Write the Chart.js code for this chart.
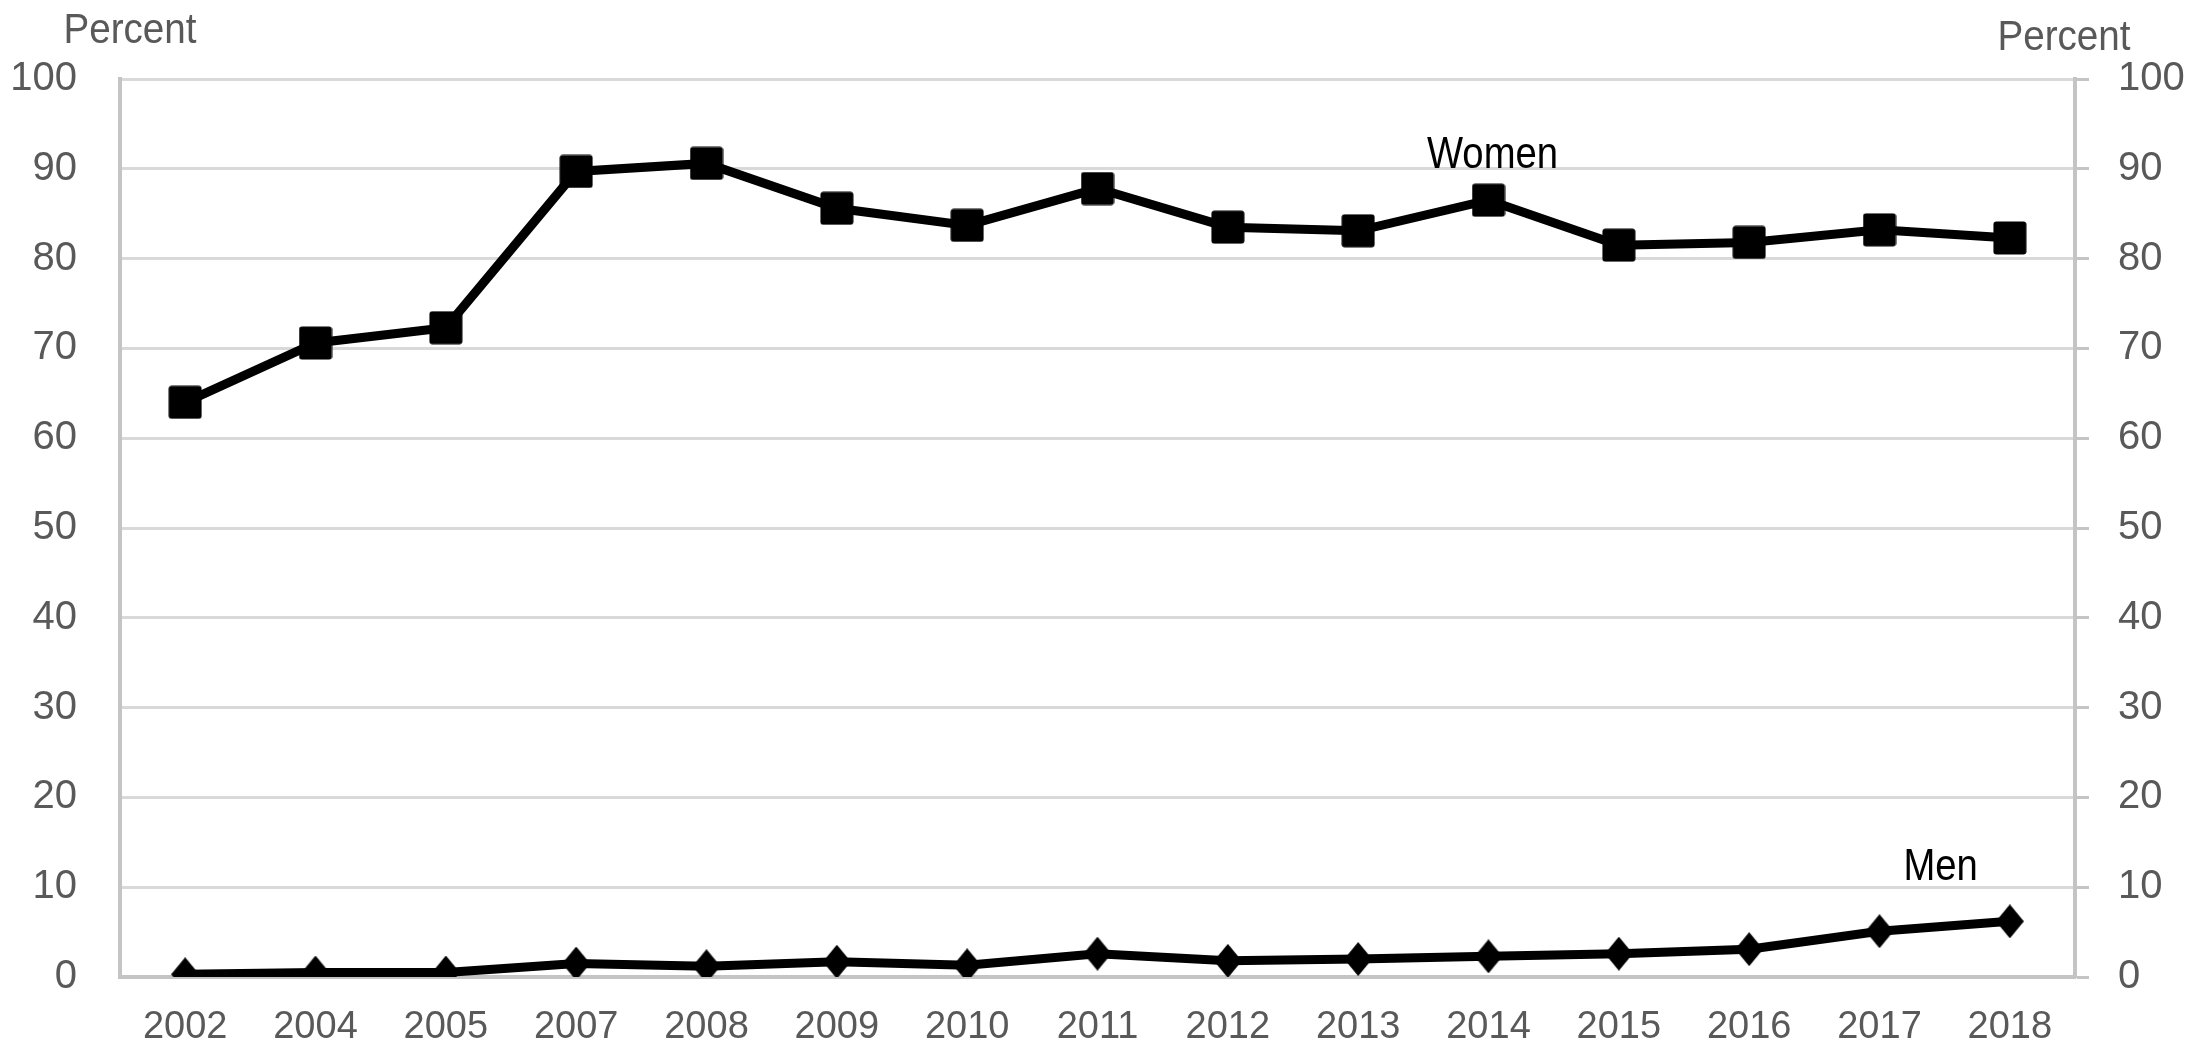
<!DOCTYPE html>
<html>
<head>
<meta charset="utf-8">
<script src="https://cdn.jsdelivr.net/npm/chart.js@4/dist/chart.umd.min.js"></script>
<style>
  html, body { margin: 0; padding: 0; background: #fff; }
  #wrap { width: 2206px; height: 1053px; position: relative; }
</style>
</head>
<body>
<div id="wrap"><canvas id="myChart"></canvas></div>
<script>
const years = ["2002", "2004", "2005", "2007", "2008", "2009", "2010", "2011", "2012", "2013", "2014", "2015", "2016", "2017", "2018"];
const women = [64.0, 70.6, 72.3, 89.7, 90.6, 85.6, 83.7, 87.8, 83.5, 83.1, 86.5, 81.5, 81.8, 83.2, 82.3];
const men = [0.3, 0.5, 0.5, 1.5, 1.2, 1.7, 1.3, 2.6, 1.8, 2.0, 2.3, 2.6, 3.1, 5.1, 6.2];
const yTicks = [0, 10, 20, 30, 40, 50, 60, 70, 80, 90, 100];

const FONT = "'Liberation Sans', Arial, sans-serif";
const GREY_TEXT = "#595959";

// marker shapes drawn on small canvases (the diamonds are taller than wide)
function makeSquare(size) {
    const c = document.createElement("canvas");
    c.width = size; c.height = size;
    const g = c.getContext("2d");
    g.fillStyle = "#000";
    g.beginPath();
    g.roundRect(0.5, 0.5, size - 1, size - 1, 3);
    g.fill();
    return c;
}
function makeDiamond(w, h) {
    const c = document.createElement("canvas");
    c.width = w; c.height = h;
    const g = c.getContext("2d");
    g.fillStyle = "#000";
    g.beginPath();
    g.moveTo(w / 2, 0);
    g.lineTo(w, h / 2);
    g.lineTo(w / 2, h);
    g.lineTo(0, h / 2);
    g.closePath();
    g.fill();
    return c;
}

// narrow-looking text: squeeze horizontally around its centre
function squeezedText(ctx, text, cx, baseline, sx) {
    ctx.save();
    ctx.translate(cx, baseline);
    ctx.scale(sx, 1);
    ctx.fillText(text, 0, 0);
    ctx.restore();
}

const labelsPlugin = {
    id: "labelsPlugin",
    afterDraw(chart) {
        const ctx = chart.ctx;
        const x = chart.scales.x;
        const y = chart.scales.y;
        ctx.save();
        ctx.textBaseline = "alphabetic";
        ctx.textAlign = "center";

        ctx.fillStyle = GREY_TEXT;
        ctx.font = "42px " + FONT;
        squeezedText(ctx, "Percent", 130, 43, 0.92);
        squeezedText(ctx, "Percent", 2064, 50, 0.92);

        ctx.fillStyle = "#000";
        ctx.font = "45px " + FONT;
        squeezedText(ctx, "Women", x.getPixelForValue(10) + 4, y.getPixelForValue(women[10]) - 32, 0.85);
        const menX = (x.getPixelForValue(13) + x.getPixelForValue(14)) / 2 - 4;
        squeezedText(ctx, "Men", menX, y.getPixelForValue(10.8), 0.85);
        ctx.restore();
    }
};

const ctx = document.getElementById("myChart");

new Chart(ctx, {
    type: "line",
    data: {
        labels: years,
        datasets: [
            {
                label: "Women",
                data: women,
                borderColor: "#000",
                borderWidth: 9,
                pointStyle: makeSquare(34),
                pointRadius: 16,
                tension: 0
            },
            {
                label: "Men",
                data: men,
                borderColor: "#000",
                borderWidth: 9,
                pointStyle: makeDiamond(28, 34),
                pointRadius: 16,
                tension: 0
            }
        ]
    },
    options: {
        responsive: true,
        maintainAspectRatio: false,
        animation: false,
        devicePixelRatio: 1,
        layout: { padding: { top: 79, left: 0, right: 0, bottom: 0 } },
        elements: { line: { borderWidth: 9 } },
        plugins: {
            legend: { display: false },
            tooltip: { enabled: false }
        },
        scales: {
            x: {
                offset: true,
                grid: { display: false, drawTicks: false },
                border: { display: true, color: "#c4c4c4", width: 4 },
                ticks: {
                    color: GREY_TEXT,
                    font: { family: FONT, size: 38 },
                    padding: 28,
                    maxRotation: 0,
                    autoSkip: false
                },
                afterFit(scale) { scale.height = 76; }
            },
            y: {
                position: "left",
                min: 0,
                max: 100,
                afterBuildTicks(scale) { scale.ticks = yTicks.map(v => ({ value: v })); },
                grid: { color: "#d9d9d9", lineWidth: 3, drawTicks: false },
                border: { display: true, color: "#c4c4c4", width: 4 },
                ticks: {
                    color: GREY_TEXT,
                    font: { family: FONT, size: 40 },
                    padding: 43
                },
                afterFit(scale) { scale.width = 120; }
            },
            y2: {
                position: "right",
                min: 0,
                max: 100,
                afterBuildTicks(scale) { scale.ticks = yTicks.map(v => ({ value: v })); },
                grid: { drawOnChartArea: false, drawTicks: true, tickLength: 14, tickColor: "#c4c4c4", tickWidth: 3 },
                border: { display: true, color: "#c4c4c4", width: 4 },
                ticks: {
                    color: GREY_TEXT,
                    font: { family: FONT, size: 40 },
                    padding: 29
                },
                afterFit(scale) { scale.width = 131; }
            }
        }
    },
    plugins: [labelsPlugin]
});
</script>
</body>
</html>
